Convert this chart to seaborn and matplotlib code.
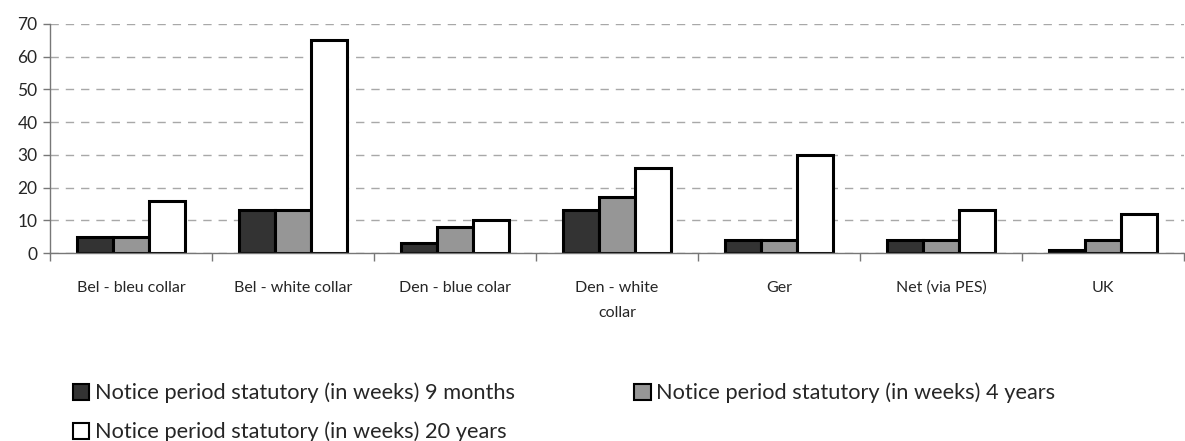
import matplotlib
matplotlib.use('Agg')
import matplotlib.pyplot as plt
import seaborn as sb
import numpy as np
import pandas as pd

# Data
categories = ["Bel - bleu collar", "Bel - white collar", "Den - blue colar", "Den - white\ncollar",
              "Ger", "Net (via PES)", "UK"]
months_9 = [5, 13, 3, 13, 4, 4, 1]
years_4 = [5, 13, 8, 17, 4, 4, 4]
years_20 = [16, 65, 10, 26, 30, 13, 12]
series_names = ["Notice period statutory (in weeks) 9 months",
                "Notice period statutory (in weeks) 4 years",
                "Notice period statutory (in weeks) 20 years"]
colors = ["#333333", "#969696", "#ffffff"]

df = pd.DataFrame({
    "category": categories * 3,
    "value": months_9 + years_4 + years_20,
    "series": [series_names[0]] * 7 + [series_names[1]] * 7 + [series_names[2]] * 7,
})

sb.set_style("white")
plt.rcParams['font.family'] = ['Lato', 'DejaVu Sans']

fig = plt.figure(figsize=(11.85, 4.41), dpi=100)
ax = fig.add_axes([50 / 1185, 1 - 253 / 441, 1134 / 1185, 229 / 441])

sb.barplot(data=df, x="category", y="value", hue="series", palette=colors, ax=ax,
           width=0.667, gap=0, edgecolor="black", linewidth=2.2, saturation=1, legend=True)

ax.set_xlim(-0.5, 6.5)
ax.set_ylim(0, 70)
ax.set_yticks(np.arange(0, 71, 10))
ax.yaxis.grid(True, linestyle=(0, (6, 5)), color="#a8a8a8", linewidth=1)
ax.set_axisbelow(True)

# Category boundary ticks, labels centered
ax.set_xticks(np.arange(-0.5, 7, 1))
ax.set_xticklabels([])
ax.set_xticks(np.arange(7), minor=True)
ax.set_xticklabels(categories, minor=True, fontsize=11.5, linespacing=2.0, va="top")
ax.tick_params(axis="x", which="minor", length=0, pad=20)
ax.tick_params(axis="x", which="major", length=6, direction="out", color="#777777", width=1)
ax.tick_params(axis="y", length=5, direction="out", color="#777777", width=1, labelsize=12.5, pad=4)
ax.tick_params(bottom=True, left=True)

for side in ["top", "right"]:
    ax.spines[side].set_visible(False)
for side in ["left", "bottom"]:
    ax.spines[side].set_color("#777777")
    ax.spines[side].set_linewidth(1)

ax.set_xlabel("")
ax.set_ylabel("")

handles, labels = ax.get_legend_handles_labels()
ax.get_legend().remove()
order = [0, 2, 1]
leg = fig.legend([handles[i] for i in order], [labels[i] for i in order], loc="upper left",
                 bbox_to_anchor=(64 / 1185, 1 - 374 / 441), ncol=2,
                 frameon=False, fontsize=15.7, handlelength=0.75, handleheight=0.75, handletextpad=0.25,
                 columnspacing=5.5, labelspacing=0.85, borderaxespad=0)
for h in leg.legend_handles:
    h.set_linewidth(1.5)

plt.savefig("out.png", dpi=100)
plt.close()
